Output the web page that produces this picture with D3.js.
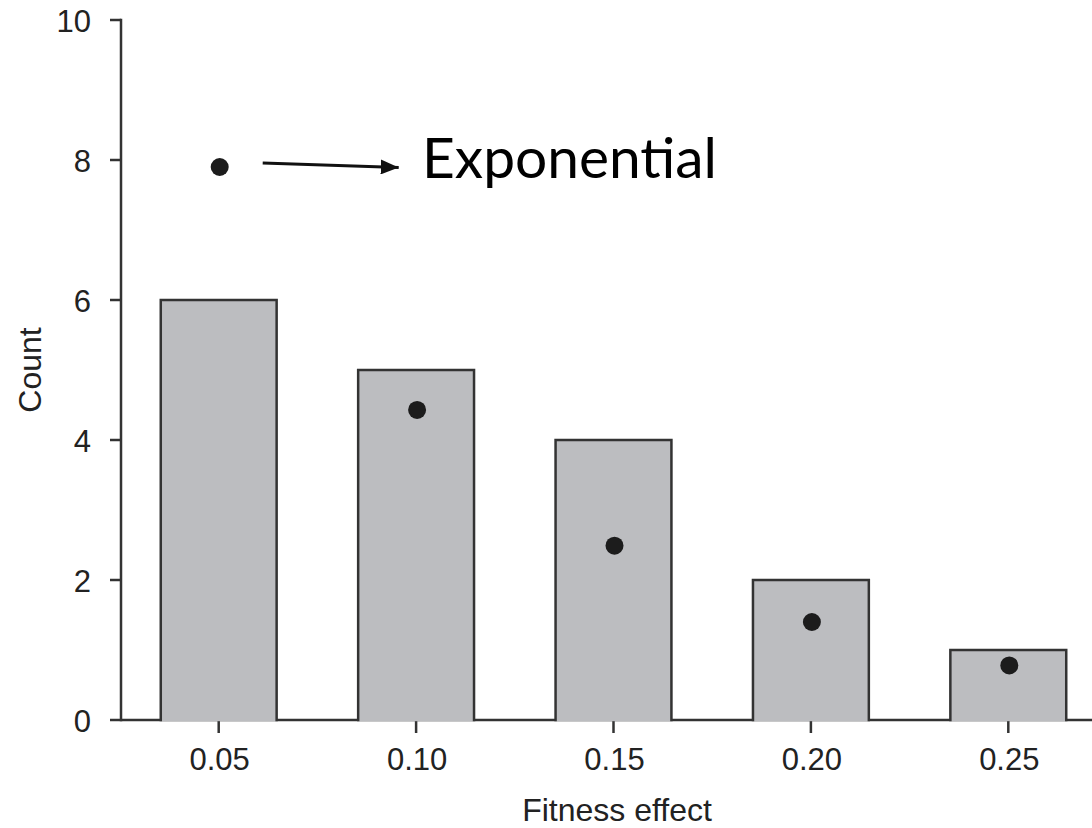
<!DOCTYPE html>
<html>
<head>
<meta charset="utf-8">
<script src="https://cdn.jsdelivr.net/npm/d3@7/dist/d3.min.js"></script>
<style>
  html, body { margin: 0; padding: 0; background: #fff; }
  svg { display: block; }
</style>
</head>
<body>
<svg id="chart" width="1092" height="828"></svg>
<script>
// ---- data ----
const categories = ["0.05", "0.10", "0.15", "0.20", "0.25"];
const counts = [6, 5, 4, 2, 1];
const exponential = [7.9, 4.43, 2.49, 1.4, 0.78];
const yTicks = [0, 2, 4, 6, 8, 10];
const xTitle = "Fitness effect";
const yTitle = "Count";
const annotation = "Exponential";

// ---- layout ----
const svg = d3.select("#chart");
const axisColor = "#333333";
const textColor = "#222222";
const barFill = "#bcbdc0";
const font = "'Liberation Sans', Arial, Helvetica, sans-serif";

const x = d3.scaleBand().domain(categories).range([120, 1107])
  .paddingInner(0.413).paddingOuter(0.2065);
const y = d3.scaleLinear().domain([0, 10]).range([720, 20]);
const axisX = 121;

// x axis baseline
svg.append("line")
  .attr("x1", axisX).attr("x2", 1092)
  .attr("y1", y(0)).attr("y2", y(0))
  .attr("stroke", axisColor).attr("stroke-width", 2.5);

// x ticks + labels
const xg = svg.append("g");
xg.selectAll("line.tick").data(categories).join("line")
  .attr("x1", d => x(d) + x.bandwidth() / 2).attr("x2", d => x(d) + x.bandwidth() / 2)
  .attr("y1", y(0)).attr("y2", y(0) + 13)
  .attr("stroke", axisColor).attr("stroke-width", 2.5);
xg.selectAll("text").data(categories).join("text")
  .attr("x", d => x(d) + x.bandwidth() / 2 + 1)
  .attr("y", 770)
  .attr("text-anchor", "middle")
  .attr("font-family", font).attr("font-size", 31)
  .attr("fill", textColor)
  .text(d => d);

// bars: fill then 3-sided outline
const bars = svg.append("g");
bars.selectAll("rect").data(categories).join("rect")
  .attr("x", d => x(d))
  .attr("y", (d, i) => y(counts[i]))
  .attr("width", x.bandwidth())
  .attr("height", (d, i) => y(0) - y(counts[i]) + 1.2)
  .attr("fill", barFill);
bars.selectAll("path").data(categories).join("path")
  .attr("d", (d, i) => {
    const x0 = x(d), x1 = x(d) + x.bandwidth(), yt = y(counts[i]), yb = y(0);
    return `M${x0},${yb + 1.25}L${x0},${yt}L${x1},${yt}L${x1},${yb + 1.25}`;
  })
  .attr("fill", "none")
  .attr("stroke", axisColor).attr("stroke-width", 2.5);

// y axis
svg.append("line")
  .attr("x1", axisX).attr("x2", axisX)
  .attr("y1", y(10) - 1.25).attr("y2", y(0) + 1.25)
  .attr("stroke", axisColor).attr("stroke-width", 2.5);
const yg = svg.append("g");
yg.selectAll("line").data(yTicks).join("line")
  .attr("x1", axisX - 11).attr("x2", axisX)
  .attr("y1", d => y(d)).attr("y2", d => y(d))
  .attr("stroke", axisColor).attr("stroke-width", 2.5);
yg.selectAll("text").data(yTicks).join("text")
  .attr("x", 91)
  .attr("y", d => y(d) + 12)
  .attr("text-anchor", "end")
  .attr("font-family", font).attr("font-size", 31)
  .attr("fill", textColor)
  .text(d => d);

// axis titles
svg.append("text")
  .attr("x", 617).attr("y", 821)
  .attr("text-anchor", "middle")
  .attr("font-family", font).attr("font-size", 32)
  .attr("fill", textColor)
  .text(xTitle);
svg.append("text")
  .attr("transform", "translate(41,370) rotate(-90)")
  .attr("text-anchor", "middle")
  .attr("font-family", font).attr("font-size", 32)
  .attr("fill", textColor)
  .text(yTitle);

// exponential points
svg.append("g").selectAll("circle").data(categories).join("circle")
  .attr("cx", d => x(d) + x.bandwidth() / 2 + 1)
  .attr("cy", (d, i) => y(exponential[i]))
  .attr("r", 9)
  .attr("fill", "#1c1c1c");

// annotation arrow + label
const ax = x(categories[0]) + x.bandwidth() / 2;
const ay = y(exponential[0]);
svg.append("defs").append("marker")
  .attr("id", "arrowhead")
  .attr("viewBox", "0 0 10 10")
  .attr("refX", 10).attr("refY", 5)
  .attr("markerUnits", "userSpaceOnUse")
  .attr("markerWidth", 18).attr("markerHeight", 15)
  .attr("orient", "auto")
  .attr("preserveAspectRatio", "none")
  .append("path").attr("d", "M0,0L10,5L0,10Z").attr("fill", "#111");
svg.append("line")
  .attr("x1", ax + 44).attr("y1", ay - 4)
  .attr("x2", ax + 180).attr("y2", ay + 0.5)
  .attr("stroke", "#111").attr("stroke-width", 3.2)
  .attr("marker-end", "url(#arrowhead)");
svg.append("text")
  .attr("x", 422).attr("y", 178)
  .attr("font-family", "Lato, 'Open Sans', sans-serif")
  .attr("font-size", 56)
  .attr("textLength", 295)
  .attr("lengthAdjust", "spacingAndGlyphs")
  .attr("fill", "#000")
  .text(annotation);
</script>
</body>
</html>
